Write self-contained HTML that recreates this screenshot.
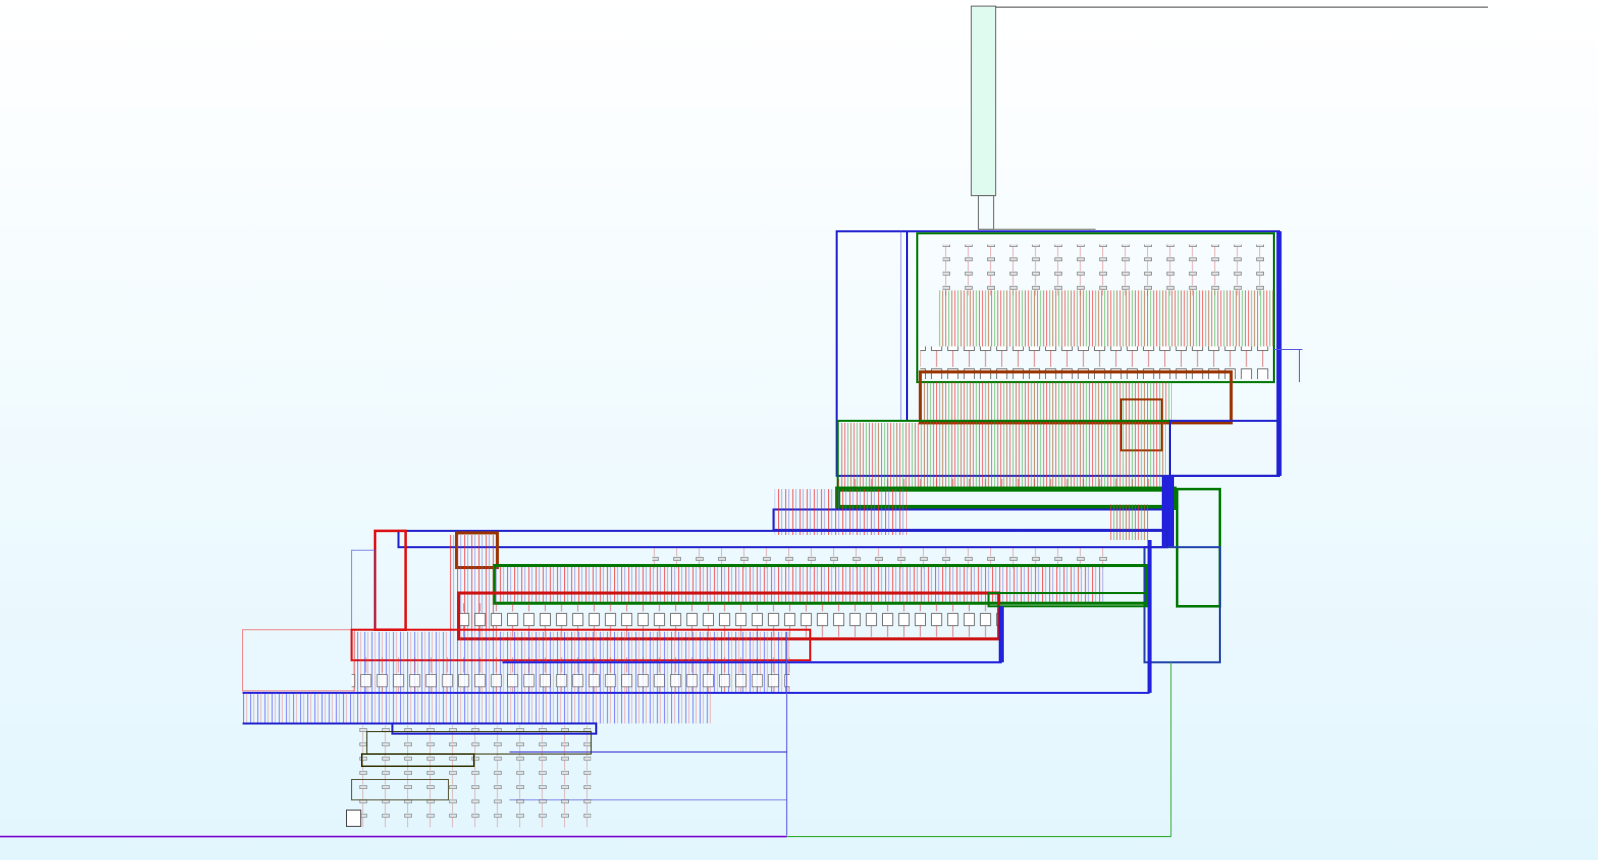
<!DOCTYPE html>
<html><head><meta charset="utf-8"><style>
html,body{margin:0;padding:0;width:1598px;height:860px;overflow:hidden;background:linear-gradient(#ffffff,#e2f6fe);}
svg{display:block}
</style></head><body>
<svg width="1598" height="860" viewBox="0 0 1568 844" preserveAspectRatio="none" xmlns="http://www.w3.org/2000/svg">
<defs>
<pattern id="h1" width="9" height="10" patternUnits="userSpaceOnUse">
<line x1="1" y1="0" x2="1" y2="10" stroke="#e33" stroke-opacity=".7" stroke-width="1"/>
<line x1="4" y1="0" x2="4" y2="10" stroke="#3a3" stroke-opacity=".6" stroke-width="1"/>
<line x1="7" y1="0" x2="7" y2="10" stroke="#a52" stroke-opacity=".7" stroke-width="1"/>
</pattern>
<pattern id="h2" width="7" height="10" patternUnits="userSpaceOnUse">
<line x1="1" y1="0" x2="1" y2="10" stroke="#e22" stroke-opacity=".75"/>
<line x1="4" y1="0" x2="4" y2="10" stroke="#66c" stroke-opacity=".5"/>
</pattern>
<pattern id="h3" width="7" height="10" patternUnits="userSpaceOnUse">
<line x1="1" y1="0" x2="1" y2="10" stroke="#33e" stroke-opacity=".6"/>
<line x1="4" y1="0" x2="4" y2="10" stroke="#e55" stroke-opacity=".4"/>
</pattern>
<pattern id="bx" width="16" height="30" patternUnits="userSpaceOnUse">
<rect x="2" y="2" width="10" height="12" fill="#fff" stroke="#555" stroke-width=".8"/>
<line x1="7" y1="14" x2="7" y2="30" stroke="#c33" stroke-opacity=".6"/>
</pattern>
<pattern id="sm" width="22" height="14" patternUnits="userSpaceOnUse">
<rect x="1" y="1" width="7" height="3" fill="#ddd" stroke="#444" stroke-width=".6"/>
<line x1="4" y1="4" x2="4" y2="14" stroke="#c44" stroke-opacity=".5"/>
</pattern>
</defs>
<rect x="953" y="6" width="24" height="186" fill="#dffbef" stroke="#666"/>
<rect x="960" y="192" width="15" height="33" fill="#f4fcff" stroke="#666"/>
<line x1="977" y1="7" x2="1460" y2="7" stroke="#444"/>
<line x1="975" y1="225" x2="1075" y2="225" stroke="#776"/>
<rect x="821" y="227" width="434" height="240" fill="none" stroke="#22c" stroke-width="2"/>
<line x1="1255" y1="227" x2="1255" y2="467" stroke="#22d" stroke-width="5"/>
<line x1="884" y1="227" x2="884" y2="413" stroke="#55d" stroke-opacity=".6"/>
<line x1="890" y1="227" x2="890" y2="413" stroke="#22c" stroke-width="2"/>
<rect x="900" y="229" width="350" height="146" fill="none" stroke="#070" stroke-width="2"/>
<rect x="925" y="240" width="320" height="50" fill="url(#sm)" opacity=".8"/>
<rect x="920" y="285" width="330" height="55" fill="url(#h1)"/>
<rect x="903" y="340" width="345" height="32" fill="url(#bx)"/>
<line x1="1250" y1="343" x2="1278" y2="343" stroke="#55d"/>
<line x1="1275" y1="343" x2="1275" y2="375" stroke="#55d"/>
<rect x="903" y="365" width="305" height="50" fill="none" stroke="#930" stroke-width="3"/>
<rect x="905" y="375" width="245" height="40" fill="url(#h1)"/>
<rect x="1100" y="392" width="40" height="50" fill="none" stroke="#930" stroke-width="2"/>
<rect x="822" y="413" width="326" height="67" fill="none" stroke="#070" stroke-width="2"/>
<rect x="824" y="415" width="320" height="65" fill="url(#h1)"/>
<rect x="1148" y="413" width="107" height="54" fill="none" stroke="#22c" stroke-width="2"/>
<rect x="822" y="470" width="325" height="10" fill="url(#bx)"/>
<rect x="822" y="480" width="330" height="18" fill="none" stroke="#070" stroke-width="5"/>
<rect x="759" y="500" width="390" height="20" fill="none" stroke="#22c" stroke-width="2"/>
<rect x="760" y="480" width="130" height="45" fill="url(#h2)"/>
<rect x="1088" y="495" width="40" height="35" fill="url(#h1)"/>
<rect x="1140" y="467" width="12" height="70" fill="#22d"/>
<rect x="1155" y="480" width="42" height="115" fill="none" stroke="#070" stroke-width="2.5"/>
<rect x="1123" y="537" width="74" height="113" fill="none" stroke="#24a" stroke-width="2"/>
<line x1="1128" y1="530" x2="1128" y2="680" stroke="#22d" stroke-width="4"/>
<rect x="391" y="521" width="754" height="16" fill="none" stroke="#22c" stroke-width="2"/>
<rect x="448" y="523" width="40" height="34" fill="none" stroke="#930" stroke-width="3"/>
<rect x="640" y="538" width="450" height="20" fill="url(#sm)" opacity=".8"/>
<rect x="485" y="555" width="600" height="37" fill="url(#h2)"/>
<rect x="485" y="555" width="640" height="37" fill="none" stroke="#070" stroke-width="3"/>
<rect x="368" y="521" width="30" height="97" fill="none" stroke="#d11" stroke-width="2.5"/>
<rect x="345" y="540" width="23" height="78" fill="none" stroke="#55d" stroke-opacity=".7"/>
<rect x="440" y="525" width="45" height="95" fill="url(#h2)"/>
<rect x="450" y="592" width="530" height="33" fill="url(#bx)"/>
<rect x="450" y="582" width="530" height="45" fill="none" stroke="#c11" stroke-width="3"/>
<rect x="970" y="582" width="155" height="13" fill="none" stroke="#070" stroke-width="2"/>
<rect x="980" y="595" width="5" height="55" fill="#22d"/>
<rect x="238" y="618" width="110" height="60" fill="none" stroke="#e55" stroke-opacity=".7"/>
<rect x="345" y="618" width="450" height="30" fill="none" stroke="#d11" stroke-width="2"/>
<rect x="345" y="620" width="430" height="60" fill="url(#h3)"/>
<rect x="345" y="645" width="430" height="35" fill="url(#bx)" opacity=".8"/>
<line x1="493" y1="650" x2="983" y2="650" stroke="#22d" stroke-width="2"/>
<line x1="238" y1="680" x2="1128" y2="680" stroke="#22d" stroke-width="2"/>
<rect x="238" y="680" width="462" height="30" fill="url(#h3)"/>
<line x1="238" y1="710" x2="490" y2="710" stroke="#22c" stroke-width="2"/>
<line x1="772" y1="620" x2="772" y2="820" stroke="#55d"/>
<line x1="500" y1="738" x2="772" y2="738" stroke="#22c"/>
<line x1="500" y1="785" x2="772" y2="785" stroke="#55d" stroke-opacity=".7"/>
<rect x="345" y="712" width="235" height="100" fill="url(#sm)" opacity=".7"/>
<rect x="385" y="710" width="200" height="10" fill="none" stroke="#22c" stroke-width="2"/>
<rect x="360" y="718" width="220" height="22" fill="none" stroke="#330" stroke-width="1"/>
<rect x="355" y="740" width="110" height="12" fill="none" stroke="#330" stroke-width="1.5"/>
<rect x="345" y="765" width="95" height="20" fill="none" stroke="#553"/>
<rect x="340" y="795" width="14" height="16" fill="#fff" stroke="#444"/>
<line x1="0" y1="821" x2="772" y2="821" stroke="#70c" stroke-width="1.5"/>
<line x1="772" y1="821" x2="1149" y2="821" stroke="#3a3"/>
<line x1="1149" y1="650" x2="1149" y2="821" stroke="#3a3"/>
</svg>
</body></html>
